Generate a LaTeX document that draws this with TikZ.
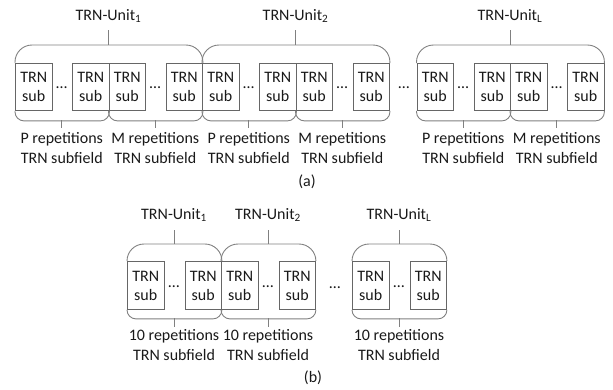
\documentclass[tikz,border=0pt]{standalone}
\usepackage{fontspec}
\setmainfont{Carlito}
\usetikzlibrary{calc}
\begin{document}
\begin{tikzpicture}[x=1pt,y=-1pt,
  txt/.style={font=\fontsize{16}{19}\selectfont, text=black!90, inner sep=0pt, align=center},
  lbl/.style={txt, font=\fontsize{16}{20}\selectfont},
  subbox/.style={txt, draw=black!60, line width=0.9pt, minimum width=36.5pt, minimum height=47pt, anchor=north west},
  brace/.style={draw=black!50, line width=0.9pt},
  topbrace/.style={brace, rounded corners=17pt},
  botbrace/.style={brace, rounded corners=9pt}]
\useasboundingbox (0,0) rectangle (613,389);
% ---------------- (a) ----------------
\foreach \s/\n/\sub in {15/1/1, 202/2/2, 416.5/3/L} {
  \node[subbox] (a\n-1) at (\s,63) {TRN\\sub};
  \node[subbox] (a\n-2) at (\s+57,63) {TRN\\sub};
  \node[subbox] (a\n-3) at (\s+93.5,63) {TRN\\sub};
  \node[subbox] (a\n-4) at (\s+150.5,63) {TRN\\sub};
  \node[txt] (a\n-d1) at (\s+46.75,88) {…};
  \node[txt] (a\n-d2) at (\s+140.25,88) {…};
  \draw[topbrace] (a\n-1.north west) -- ++(0,-18) -- ($(a\n-4.north east)+(0,-18)$) -- (a\n-4.north east);
  \draw[botbrace] (a\n-1.south west) -- ++(0,10) -- ($(a\n-2.south east)+(0,10)$) -- (a\n-2.south east);
  \draw[botbrace] (a\n-3.south west) -- ++(0,10) -- ($(a\n-4.south east)+(0,10)$) -- (a\n-4.south east);
  \node[txt] (a\n-u) at (\s+93.5,16) {TRN-Unit\textsubscript{\sub}};
  \coordinate (a\n-ul) at (\s+93.5,30);
  \coordinate (a\n-ub) at (\s+93.5,45);
  \draw[brace] (a\n-ul) -- (a\n-ub);
  \coordinate (a\n-pt) at (\s+46.75,120);
  \coordinate (a\n-pb) at (\s+46.75,128);
  \coordinate (a\n-mt) at (\s+140.25,120);
  \coordinate (a\n-mb) at (\s+140.25,128);
  \draw[brace] (a\n-pt) -- (a\n-pb);
  \draw[brace] (a\n-mt) -- (a\n-mb);
  \node[lbl] (a\n-pl) at (\s+46.75,148) {P repetitions\\TRN subfield};
  \node[lbl] (a\n-ml) at (\s+140.25,148) {M repetitions\\TRN subfield};
}
\node[txt] (adots) at (404,88) {…};
\node[txt] (alabel) at (307,182) {(a)};
% ---------------- (b) ----------------
\foreach \s/\n/\sub in {127/1/1, 221/2/2, 352/3/L} {
  \node[subbox, minimum height=48pt] (b\n-1) at (\s,261) {TRN\\sub};
  \node[subbox, minimum height=48pt] (b\n-2) at (\s+57.5,261) {TRN\\sub};
  \node[txt] (b\n-d) at (\s+47,287) {…};
  \draw[topbrace] (b\n-1.north west) -- ++(0,-17) -- ($(b\n-2.north east)+(0,-17)$) -- (b\n-2.north east);
  \draw[botbrace] (b\n-1.south west) -- ++(0,9) -- ($(b\n-2.south east)+(0,9)$) -- (b\n-2.south east);
  \node[txt] (b\n-u) at (\s+47,215) {TRN-Unit\textsubscript{\sub}};
  \coordinate (b\n-ul) at (\s+47,230);
  \coordinate (b\n-ub) at (\s+47,244);
  \draw[brace] (b\n-ul) -- (b\n-ub);
  \coordinate (b\n-pt) at (\s+47,318);
  \coordinate (b\n-pb) at (\s+47,327);
  \draw[brace] (b\n-pt) -- (b\n-pb);
  \node[lbl] (b\n-pl) at (\s+47,345.5) {10 repetitions\\TRN subfield};
}
\node[txt] (bdots) at (335,288) {…};
\node[txt] (blabel) at (313,378) {(b)};
\end{tikzpicture}
\end{document}
